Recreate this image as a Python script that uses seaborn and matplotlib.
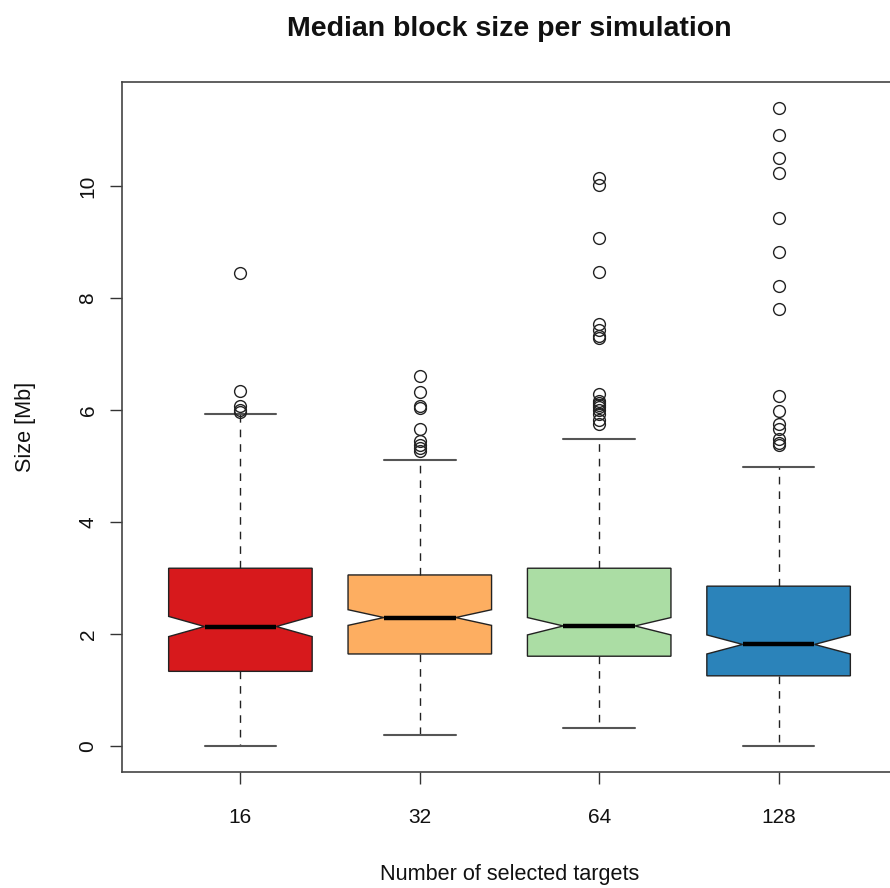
import matplotlib
matplotlib.use("Agg")
import matplotlib.pyplot as plt
import seaborn as sns

# Data (values in Mb)
groups = ["16", "32", "64", "128"]
q1 = [1.34, 1.65, 1.61, 1.26]
medians = [2.14, 2.30, 2.15, 1.82]
q3 = [3.18, 3.06, 3.18, 2.86]
whisk_lo = [0.00, 0.21, 0.33, 0.00]
whisk_hi = [5.93, 5.12, 5.48, 4.98]
notch_lo = [1.96, 2.16, 1.99, 1.65]
notch_hi = [2.32, 2.44, 2.30, 1.99]
outliers_16 = [8.45, 6.34, 6.08, 6.01, 5.96]
outliers_32 = [6.61, 6.33, 6.08, 6.04, 5.66, 5.45, 5.38, 5.32, 5.27]
outliers_64 = [10.15, 10.01, 9.07, 8.47, 7.53, 7.43, 7.33, 7.28,
               6.29, 6.16, 6.12, 6.09, 6.05, 6.00, 5.93, 5.83, 5.75]
outliers_128 = [11.40, 10.91, 10.50, 10.24, 9.43, 8.82, 8.21, 7.80,
                6.25, 5.98, 5.75, 5.66, 5.48, 5.42, 5.37]
outliers = [outliers_16, outliers_32, outliers_64, outliers_128]

colors = sns.color_palette(["#D7191C", "#FDAE61", "#ABDDA4", "#2B83BA"])

sns.set_style("white")
plt.rcParams["font.family"] = ["Liberation Sans", "DejaVu Sans"]

stats = []
for i, g in enumerate(groups):
    stats.append(dict(label=g, q1=q1[i], med=medians[i], q3=q3[i],
                      whislo=whisk_lo[i], whishi=whisk_hi[i],
                      cilo=notch_lo[i], cihi=notch_hi[i],
                      fliers=outliers[i]))

fig = plt.figure(figsize=(8.9, 8.88), dpi=100)
ax = fig.add_axes([122 / 890, 116 / 888, 775 / 890, 690 / 888])

bp = ax.bxp(stats, positions=[1, 2, 3, 4], widths=0.8, shownotches=True,
            patch_artist=True,
            boxprops=dict(edgecolor="#222222", linewidth=1.0),
            medianprops=dict(color="black", linewidth=3.2, solid_capstyle="butt"),
            whiskerprops=dict(color="#222222", linewidth=1.0, linestyle=(0, (5.5, 5))),
            capprops=dict(color="#555555", linewidth=1.5),
            flierprops=dict(marker="o", markerfacecolor="none",
                            markeredgecolor="#222222", markersize=8.5,
                            markeredgewidth=1.0, linestyle="none"))
for patch, c in zip(bp["boxes"], colors):
    patch.set_facecolor(c)

lo = min(whisk_lo)
hi = max(max(o) for o in outliers)
pad = (hi - lo) * 0.04
ax.set_ylim(lo - pad, hi + pad)
ax.set_xlim(0.34, 4.66)

ax.set_xticks([1, 2, 3, 4])
ax.set_xticklabels(groups)
ax.set_yticks([0, 2, 4, 6, 8, 10])
ax.set_yticklabels(["0", "2", "4", "6", "8", "10"], rotation=90, va="center")
ax.tick_params(axis="both", direction="out", length=8.6, width=1.0,
               bottom=True, left=True,
               color="#333333", labelsize=15, labelcolor="#111111")
ax.tick_params(axis="x", pad=17)
ax.tick_params(axis="y", pad=9)

for s in ax.spines.values():
    s.set_color("#444444")
    s.set_linewidth(1.2)

ax.set_xlabel("Number of selected targets", fontsize=15.6, labelpad=27,
              color="#111111")
ax.set_ylabel("Size [Mb]", fontsize=15.6, labelpad=31, color="#111111")
ax.set_title("Median block size per simulation", fontsize=20.5,
             fontweight="bold", pad=33, color="#111111")

fig.savefig("out.png", dpi=100)
